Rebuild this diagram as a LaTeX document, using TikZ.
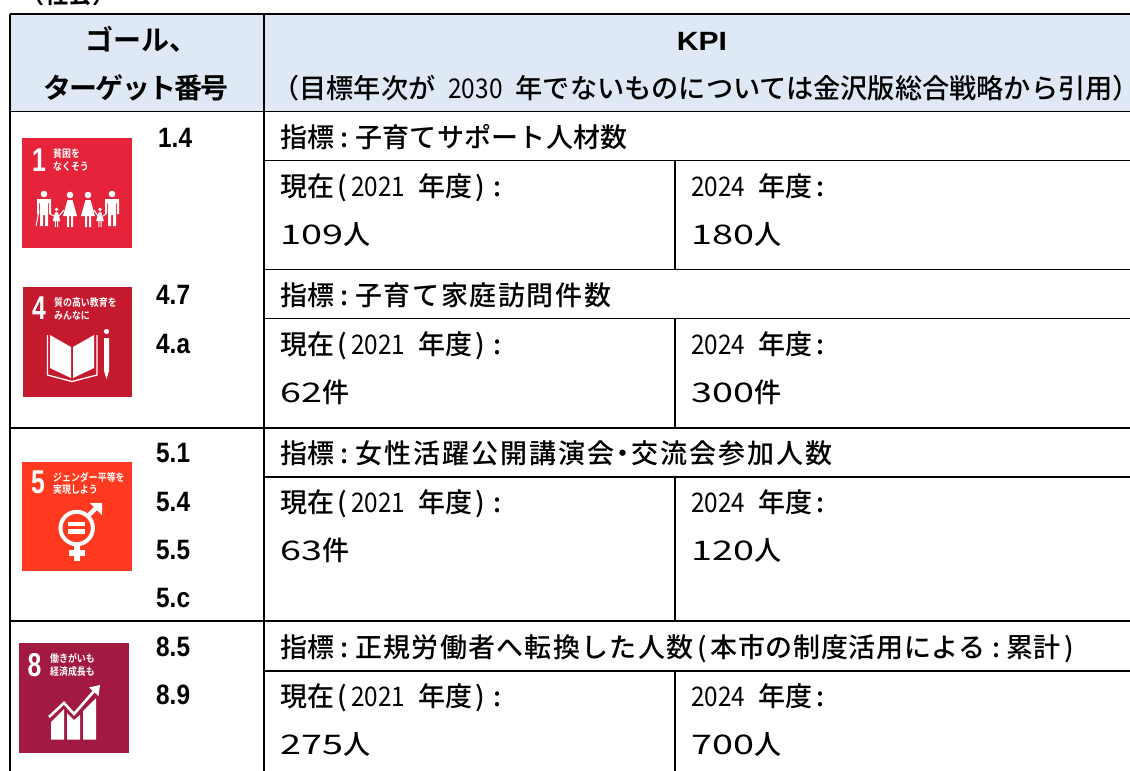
\documentclass[tikz,border=0pt]{standalone}
\usepackage{fontspec}
\setmainfont{Noto Sans CJK JP Medium}
\newfontfamily\boldf{Noto Sans CJK JP Bold}
\newfontfamily\narrowf[FakeStretch=.9]{Noto Sans CJK JP}
\newfontfamily\widef[FakeStretch=1.4]{Noto Sans CJK JP}
\newfontfamily\latb[FakeStretch=.87]{Liberation Sans Bold}
\newfontfamily\kpif[FakeStretch=1.14]{Liberation Sans Bold}
\newfontfamily\numf[FakeStretch=.75]{Liberation Sans Bold}
\newfontfamily\iconf[FakeStretch=.85]{Noto Sans CJK JP Bold}
\definecolor{headfill}{HTML}{DEE9F5}
\definecolor{sdgone}{HTML}{E5243B}
\definecolor{sdgfour}{HTML}{C5192D}
\definecolor{sdgfive}{HTML}{FF3A21}
\definecolor{sdgeight}{HTML}{A21942}
\newcommand\nar[1]{{\narrowf #1}}
\newcommand\wid[1]{{\widef #1}}
\newcommand\lp{\makebox[17pt][c]{(}}
\newcommand\rp{\makebox[17pt][c]{)}}
\newcommand\cl{\makebox[17pt][c]{:}}
\newcommand\hs{\hspace{13pt}}
\newcommand\ls[2]{{\addfontfeature{LetterSpace=#1}#2}}
\newcommand\idx{指標\makebox[21pt][c]{:}}
\newcommand\nowlabel{現在\lp\nar{2021}\hs 年度\rp\cl}
\newcommand\nextlabel{\nar{2024}\hs 年度\cl}
\newcommand\manfig[2]{\begin{scope}[shift={(#1,#2)}]
 \fill[white] (0,0) circle [radius=3.3];
 \fill[white] (-7,5)--(7,5)--(7,20)--(5,20)--(5,9)--(4,9)--(4,32)--(1,32)--(1,21)--(-1,21)--(-1,32)--(-4,32)--(-4,9)--(-5,9)--(-5,20)--(-7,20)--cycle;
\end{scope}}
\newcommand\womanfig[3]{\begin{scope}[shift={(#1,#2)},scale=#3]
 \fill[white] (0,0) circle [radius=3.3];
 \fill[white] (-2.5,5)--(2.5,5)--(7,21)--(3,21)--(3,32)--(1,32)--(1,21)--(-1,21)--(-1,32)--(-3,32)--(-3,21)--(-7,21)--cycle;
\end{scope}}
\tikzset{
 x=1pt,y=-1pt,
 body/.style={anchor=base west,inner sep=0pt,font=\fontsize{27}{27}\selectfont},
 goal/.style={anchor=base west,inner sep=0pt,font=\fontsize{28}{28}\selectfont\latb},
 headtxt/.style={anchor=base,inner sep=0pt,font=\fontsize{28}{28}\selectfont\boldf},
 icontxt/.style={anchor=base west,inner sep=0pt,text=white,font=\fontsize{10.5}{10.5}\selectfont\iconf},
 iconnum/.style={anchor=base,inner sep=0pt,text=white,font=\fontsize{33}{33}\selectfont\numf},
 rule/.style={line width=1.8pt,black},
}
\begin{document}
\begin{tikzpicture}
\useasboundingbox (0,0) rectangle (1130,771);
\fill[headfill] (10,14) rectangle (1130,111);
% table rules
\draw[rule] (10,14) -- (1130,14);
\draw[rule] (10,111.5) -- (1130,111.5);
\draw[rule] (10,428) -- (1130,428);
\draw[rule] (10,621) -- (1130,621);
\draw[rule] (264,160.5) -- (1130,160.5);
\draw[rule] (264,269.5) -- (1130,269.5);
\draw[rule] (264,318.5) -- (1130,318.5);
\draw[rule] (264,477) -- (1130,477);
\draw[rule] (264,671) -- (1130,671);
\draw[rule] (10,14) -- (10,771);
\draw[rule] (264,14) -- (264,771);
\draw[rule] (675,160.5) -- (675,269.5);
\draw[rule] (675,318.5) -- (675,428);
\draw[rule] (675,477) -- (675,621);
\draw[rule] (675,671) -- (675,771);
% top cut text
\node[anchor=base west,inner sep=0pt,font=\fontsize{24}{24}\selectfont\boldf] (social) at (20,4) {（社会）};
% header
\node[headtxt] (hgoal) at (141,50) {ゴール、};
\node[headtxt] (htarget) at (136,98) {\ls{-6.5}{ターゲット番号}};
\node[anchor=base,inner sep=0pt,font=\fontsize{26.4}{26.4}\selectfont\kpif] (hkpi) at (702,50) {KPI};
\node[anchor=base west,inner sep=0pt,font=\fontsize{27.2}{27.2}\selectfont] (hnote) at (272,98) {（目標年次が\hs\nar{2030}\hs 年でないものについては金沢版総合戦略から引用\makebox[14pt][l]{）}};
% goal numbers
\node[goal] (g14) at (158,147) {1.4};
\node[goal] (g47) at (156,304) {4.7};
\node[goal] (g4a) at (156,353) {4.a};
\node[goal] (g51) at (156,462) {5.1};
\node[goal] (g54) at (156,511) {5.4};
\node[goal] (g55) at (156,559) {5.5};
\node[goal] (g5c) at (156,607) {5.c};
\node[goal] (g85) at (156,656) {8.5};
\node[goal] (g89) at (156,704) {8.9};
% KPI rows
\node[body] (k1) at (280,147) {\idx\ls{1.1}{子育てサポート人材数}};
\node[body] (k1a) at (280,196) {\nowlabel};
\node[body] (k1b) at (691,196) {\nextlabel};
\node[body] (k1c) at (280,244) {\wid{109}人};
\node[body] (k1d) at (691,244) {\wid{180}人};
\node[body] (k2) at (280,305) {\idx\ls{6}{子育て家庭訪問件数}};
\node[body] (k2a) at (280,354) {\nowlabel};
\node[body] (k2b) at (691,354) {\nextlabel};
\node[body] (k2c) at (280,402) {\wid{62}件};
\node[body] (k2d) at (691,402) {\wid{300}件};
\node[body] (k3) at (280,463) {\idx\ls{7.4}{女性活躍公開講演会}\makebox[17pt][c]{・}\ls{7.4}{交流会参加人数}};
\node[body] (k3a) at (280,512) {\nowlabel};
\node[body] (k3b) at (691,512) {\nextlabel};
\node[body] (k3c) at (280,560) {\wid{63}件};
\node[body] (k3d) at (691,560) {\wid{120}人};
\node[body] (k4) at (280,657) {\idx\ls{4.8}{正規労働者へ転換した人数}\lp\ls{2.5}{本市の制度活用による}\makebox[21pt][c]{:}累計\rp};
\node[body] (k4a) at (280,706) {\nowlabel};
\node[body] (k4b) at (691,706) {\nextlabel};
\node[body] (k4c) at (280,754) {\wid{275}人};
\node[body] (k4d) at (691,754) {\wid{700}人};
% icon 1
\fill[sdgone] (22,138) rectangle (132,248);
\node[iconnum] (n1) at (39,171) {1};
\node[icontxt] (t1a) at (53,157) {貧困を};
\node[icontxt] (t1b) at (53,170) {なくそう};
\manfig{44}{194}
\manfig{112}{194}
\womanfig{70}{195}{1}
\womanfig{88}{195}{1}
\womanfig{56.5}{209.5}{.55}
\womanfig{100}{209.5}{.55}
\draw[white,line width=1pt] (36,226) -- (39,211);
\draw[white,line width=1pt] (50,214) -- (54,216) (59,216) -- (64,210) (94,210) -- (98,216) (103,216) -- (106,214);
% icon 4
\fill[sdgfour] (23,287) rectangle (132,397);
\node[iconnum] (n4) at (39,319) {4};
\node[icontxt] (t4a) at (54,306) {質の高い教育を};
\node[icontxt] (t4b) at (54,319) {みんなに};
\fill[white] (50,335) -- (71,347) -- (71,378) -- (50,368) -- cycle;
\fill[white] (73,347) -- (94,335) -- (94,368) -- (73,378) -- cycle;
\draw[white,line width=1.3pt] (47.5,335) -- (47.5,375) -- (72,381.5) -- (97,375) -- (97,335);
\fill[white] (106.5,331.5) circle [radius=2.6];
\fill[white] (104,338) -- (109,338) -- (109,371) -- (106.5,379) -- (104,371) -- cycle;
% icon 5
\fill[sdgfive] (22,462) rectangle (132,571);
\node[iconnum] (n5) at (38,493) {5};
\node[icontxt] (t5a) at (53,481) {ジェンダー平等を};
\node[icontxt] (t5b) at (53,493) {実現しよう};
\draw[white,line width=4pt] (76.7,528) circle [radius=16.2];
\fill[white] (68,521.7) rectangle (85,526);
\fill[white] (68,529.2) rectangle (85,533.5);
\draw[white,line width=4.5pt] (88,516) -- (99,505);
\fill[white] (90,503) -- (102,503) -- (102,515) -- cycle;
\fill[white] (74,544) rectangle (80,561);
\fill[white] (68.5,550) rectangle (85,556);
% icon 8
\fill[sdgeight] (19,643) rectangle (129,753);
\node[iconnum] (n8) at (34.5,676) {8};
\node[icontxt] (t8a) at (50,662) {働きがいも};
\node[icontxt] (t8b) at (50,675) {経済成長も};
\fill[white] (51,722) -- (64,709) -- (64,739.5) -- (51,739.5) -- cycle;
\fill[white] (67,713) -- (74,720) -- (80,715) -- (80,739.5) -- (67,739.5) -- cycle;
\fill[white] (83,711) -- (96,698) -- (96,739.5) -- (83,739.5) -- cycle;
\draw[white,line width=2.6pt] (49,717) -- (64,703) -- (74,714) -- (95,690);
\fill[white] (100,685) -- (98.5,696) -- (89,687.5) -- cycle;
\end{tikzpicture}
\end{document}
